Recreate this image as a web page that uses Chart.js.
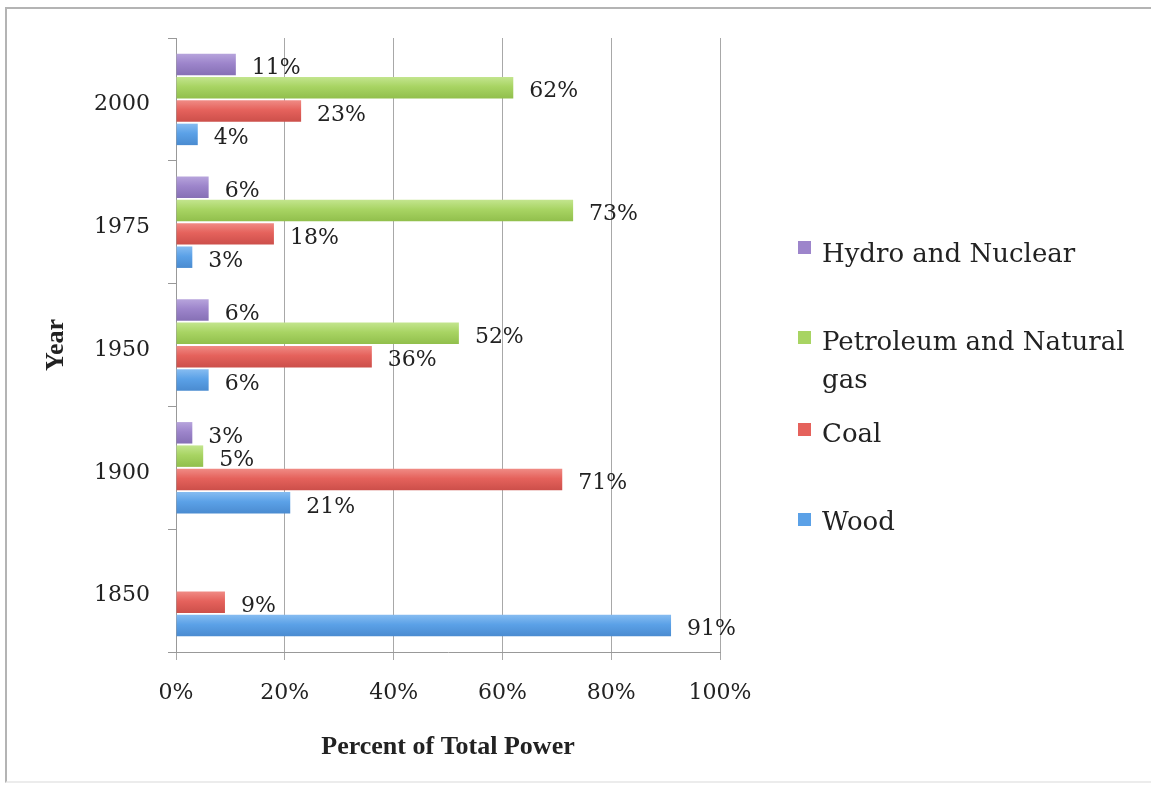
<!DOCTYPE html>
<html>
<head>
<meta charset="utf-8">
<script src="https://cdn.jsdelivr.net/npm/chart.js@4.4.1/dist/chart.umd.min.js"></script>
<style>
  html, body { margin: 0; padding: 0; background: #fff; }
  #wrap { position: relative; width: 1151px; height: 790px; overflow: hidden; }
  #frame { position: absolute; left: 5px; top: 7px; width: 1170px; height: 776px;
           border: 2px solid #b4b4b4; border-bottom-color: #ececec; box-sizing: border-box; }
  canvas { position: absolute; left: 0; top: 0; }
  .lg { position: absolute; left: 797px; font-family: "DejaVu Serif", serif; font-size: 26px;
        line-height: 38px; color: #222; }
  .lg .sw { position: absolute; left: 1px; width: 13px; height: 13px; }
  .lg .tx { position: absolute; left: 25px; white-space: nowrap; }
</style>
</head>
<body>
<div id="wrap">
  <div id="frame"></div>
  <canvas id="c" width="1151" height="790"></canvas>
  <div id="legend"></div>
</div>
<script>
// ---- data ----
const years = ['2000', '1975', '1950', '1900', '1850'];
const seriesNames = ['Hydro and Nuclear', 'Petroleum and Natural gas', 'Coal', 'Wood'];
const hydroNuclear = [11, 6, 6, 3, null];
const petroleumGas = [62, 73, 52, 5, null];
const coal = [23, 18, 36, 71, 9];
const wood = [4, 3, 6, 21, 91];
const colors = ['#9d85cb', '#a8d463', '#e5625c', '#5ba1e7'];
const lightColors = ['#b7a4dc', '#c3e58e', '#f08b85', '#86bcf1'];
const darkColors = ['#8670b5', '#91bf4c', '#cc4f4a', '#4a8bd0'];
const xTickStep = 20;

const textColor = '#222';
const serif = '"DejaVu Serif", serif';

const barShading = {
  id: 'barShading',
  beforeDatasetsDraw(chart) {
    const ctx = chart.ctx;
    chart.data.datasets.forEach((ds, i) => {
      const meta = chart.getDatasetMeta(i);
      meta.data.forEach(bar => {
        if (!bar || !bar.options || !isFinite(bar.y) || !isFinite(bar.height)) return;
        const h = bar.height;
        const g = ctx.createLinearGradient(0, bar.y - h / 2, 0, bar.y + h / 2);
        g.addColorStop(0, lightColors[i]);
        g.addColorStop(0.45, colors[i]);
        g.addColorStop(1, darkColors[i]);
        try {
          const o = {};
          for (const k in bar.options) o[k] = bar.options[k];
          o.backgroundColor = g;
          bar.options = o;
        } catch (e) { /* keep solid colour */ }
      });
    });
  }
};

const valueLabels = {
  id: 'valueLabels',
  afterDatasetsDraw(chart) {
    const ctx = chart.ctx;
    ctx.save();
    ctx.font = '22px ' + serif;
    ctx.fillStyle = textColor;
    ctx.textAlign = 'left';
    ctx.textBaseline = 'middle';
    chart.data.datasets.forEach((ds, i) => {
      const meta = chart.getDatasetMeta(i);
      meta.data.forEach((bar, j) => {
        const v = ds.data[j];
        if (v === null || v === undefined) return;
        ctx.fillText(v + '%', bar.x + 16, bar.y + 4);
      });
    });
    ctx.restore();
  }
};

const seriesData = [hydroNuclear, petroleumGas, coal, wood];

new Chart(document.getElementById('c'), {
  type: 'bar',
  data: {
    labels: years,
    datasets: seriesNames.map((n, i) => ({
      label: n,
      data: seriesData[i],
      backgroundColor: colors[i],
      borderWidth: 0,
      categoryPercentage: 0.76,
      barPercentage: 0.92
    }))
  },
  options: {
    indexAxis: 'y',
    responsive: false,
    animation: false,
    layout: { padding: { left: 0, right: 431, top: 38, bottom: 0 } },
    plugins: { legend: { display: false }, tooltip: { enabled: false } },
    scales: {
      x: {
        min: 0, max: 100,
        ticks: {
          stepSize: xTickStep,
          callback: v => v + '%',
          color: textColor,
          font: { family: serif, size: 22 },
          padding: 20
        },
        grid: { color: '#a8a8a8', lineWidth: 1, tickLength: 8, drawTicks: true },
        border: { color: '#999', width: 1 },
        title: {
          display: true, text: 'Percent of Total Power', color: textColor,
          font: { family: '"Liberation Serif", serif', size: 26, weight: 'bold' },
          padding: { top: 0, bottom: 27 }
        },
        afterFit(scale) { scale.height = 138; }
      },
      y: {
        ticks: {
          color: textColor,
          font: { family: serif, size: 22 },
          padding: 18,
          labelOffset: 5
        },
        grid: { drawOnChartArea: false, drawTicks: true, tickLength: 8, color: '#999', offset: true },
        border: { color: '#999', width: 1 },
        title: {
          display: true, text: 'Year', color: textColor,
          font: { family: '"Liberation Serif", serif', size: 26, weight: 'bold' },
          padding: { top: 41, bottom: 0 }
        },
        afterFit(scale) { scale.width = 176; }
      }
    }
  },
  plugins: [barShading, valueLabels]
});

// ---- HTML legend ----
const legendTops = [234, 322, 414, 502];
const swatchTops = [7, 9, 9, 11];
const lg = document.getElementById('legend');
seriesNames.forEach((n, i) => {
  const d = document.createElement('div');
  d.className = 'lg';
  d.style.top = legendTops[i] + 'px';
  const sw = document.createElement('div');
  sw.className = 'sw';
  sw.style.background = colors[i];
  sw.style.top = swatchTops[i] + 'px';
  const tx = document.createElement('div');
  tx.className = 'tx';
  if (n === 'Petroleum and Natural gas') {
    tx.innerHTML = 'Petroleum and Natural<br>gas';
  } else {
    tx.textContent = n;
  }
  d.appendChild(sw);
  d.appendChild(tx);
  lg.appendChild(d);
});
</script>
</body>
</html>
